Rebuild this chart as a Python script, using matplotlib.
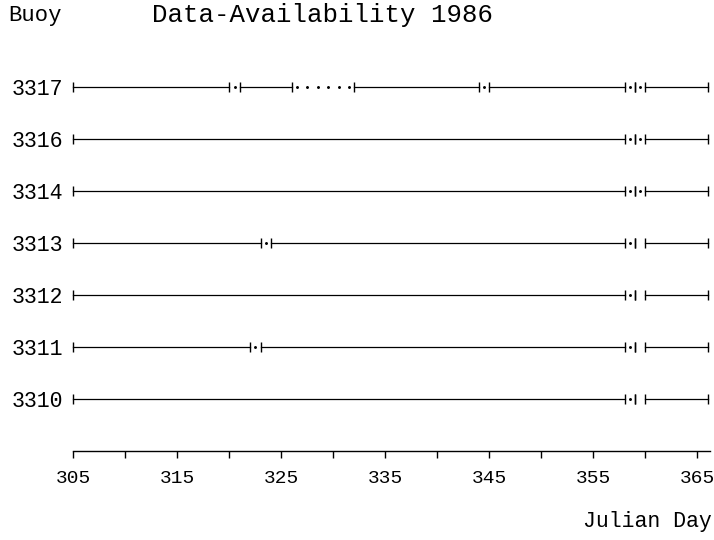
import matplotlib
matplotlib.use("Agg")
import matplotlib.pyplot as plt
from matplotlib.ticker import MultipleLocator

plt.rcParams['font.family'] = ['Liberation Mono', 'DejaVu Sans Mono']

# buoys from top to bottom
buoys = ['3317', '3316', '3314', '3313', '3312', '3311', '3310']

# periods with data (start day, end day) for each buoy
segments = [
    [(305, 320), (321, 326), (332, 344), (345, 358), (359, 359), (360, 366)],
    [(305, 358), (359, 359), (360, 366)],
    [(305, 358), (359, 359), (360, 366)],
    [(305, 323), (324, 358), (359, 359), (360, 366)],
    [(305, 358), (359, 359), (360, 366)],
    [(305, 322), (323, 358), (359, 359), (360, 366)],
    [(305, 358), (359, 359), (360, 366)],
]

# single dots for partial days
dots = [
    [320.5, 326.5, 327.5, 328.5, 329.5, 330.5, 331.5, 344.5, 358.5, 359.5],
    [358.5, 359.5],
    [358.5, 359.5],
    [323.5, 358.5],
    [358.5],
    [322.5, 358.5],
    [358.5],
]

fig = plt.figure(figsize=(7.14, 5.4), dpi=100)
ax = fig.add_axes([73.3 / 714, 89 / 540, 61.2 * 10.4 / 714, 7.5 * 52 / 540])

n = len(buoys)
for i in range(n):
    y = n - i  # top buoy highest
    for s, e in segments[i]:
        ax.plot([s, e], [y, y], color='black', lw=0.9, clip_on=False)
        ax.plot([s, e], [y, y], ls='none', marker='|', ms=6.5, mew=1.0,
                color='black', clip_on=False)
    ax.plot(dots[i], [y] * len(dots[i]), ls='none', marker='.', ms=2.2,
            color='black', clip_on=False)

ax.set_xlim(305, 366.2)
ax.set_ylim(0, 7.5)

ax.set_yticks(range(n, 0, -1))
ax.set_yticklabels(buoys, fontsize=15.5)
ax.tick_params(axis='y', length=0, pad=7)

ax.xaxis.set_minor_locator(MultipleLocator(5))
ax.set_xticks(range(305, 366, 10))
ax.tick_params(axis='x', which='both', direction='out', length=5, width=1)
ax.tick_params(axis='x', which='major', labelsize=14, pad=9)

for side in ['left', 'top', 'right']:
    ax.spines[side].set_visible(False)
ax.spines['bottom'].set_linewidth(1.0)

fig.text(8 / 714, 1 - 15 / 540, 'Buoy', fontsize=16, ha='left', va='center')
fig.text(152 / 714, 1 - 15 / 540, 'Data-Availability 1986', fontsize=18.5,
         ha='left', va='center')
fig.text(712 / 714, 1 - 521 / 540, 'Julian Day', fontsize=15.5,
         ha='right', va='center')

fig.savefig('out.png', dpi=100)
